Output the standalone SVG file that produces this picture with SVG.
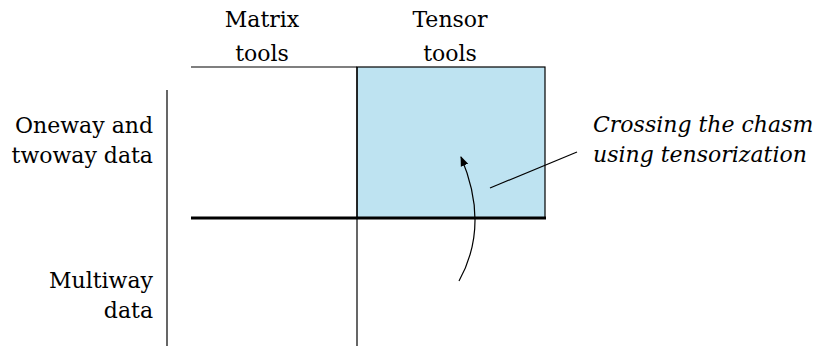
<svg xmlns="http://www.w3.org/2000/svg" width="817" height="346" viewBox="0 0 817 346">
<style>
text{font-family:"DejaVu Serif","Liberation Serif",serif;font-size:22px;fill:#000}
.it{font-style:italic}
.thin{stroke:#000;stroke-width:1.2;fill:none}
</style>
<defs>
<marker id="ah" viewBox="0 0 10 10" refX="9" refY="5" markerWidth="10" markerHeight="10" markerUnits="userSpaceOnUse" orient="auto">
<path d="M0,1 L10,5 L0,9 Z" fill="#000"/>
</marker>
</defs>
<rect width="817" height="346" fill="#fff"/>
<g id="tensor-region">
<rect x="357" y="67" width="188" height="151" fill="#bee3f1" stroke="#000" stroke-width="1.2"/>
</g>
<g id="axes">
<line class="thin" x1="191" y1="67" x2="357" y2="67" stroke="#444"/>
<line class="thin" x1="357" y1="67" x2="357" y2="346"/>
<line class="thin" x1="167" y1="90" x2="167" y2="346"/>
<line x1="191" y1="218" x2="546" y2="218" stroke="#000" stroke-width="3"/>
</g>
<g id="labels">
<text x="262" y="27" text-anchor="middle">Matrix</text>
<text x="262" y="61" text-anchor="middle">tools</text>
<text x="450" y="27" text-anchor="middle">Tensor</text>
<text x="450" y="61" text-anchor="middle">tools</text>
<text x="153" y="133" text-anchor="end">Oneway and</text>
<text x="153" y="163" text-anchor="end">twoway data</text>
<text x="153" y="288" text-anchor="end">Multiway</text>
<text x="153" y="318" text-anchor="end">data</text>
<text class="it" x="593" y="132">Crossing the chasm</text>
<text class="it" x="593" y="162">using tensorization</text>
</g>
<g id="connectors">
<path class="thin" d="M459,281 Q490,225 461,157" marker-end="url(#ah)"/>
<line class="thin" x1="490" y1="188" x2="577" y2="152"/>
</g>
</svg>
